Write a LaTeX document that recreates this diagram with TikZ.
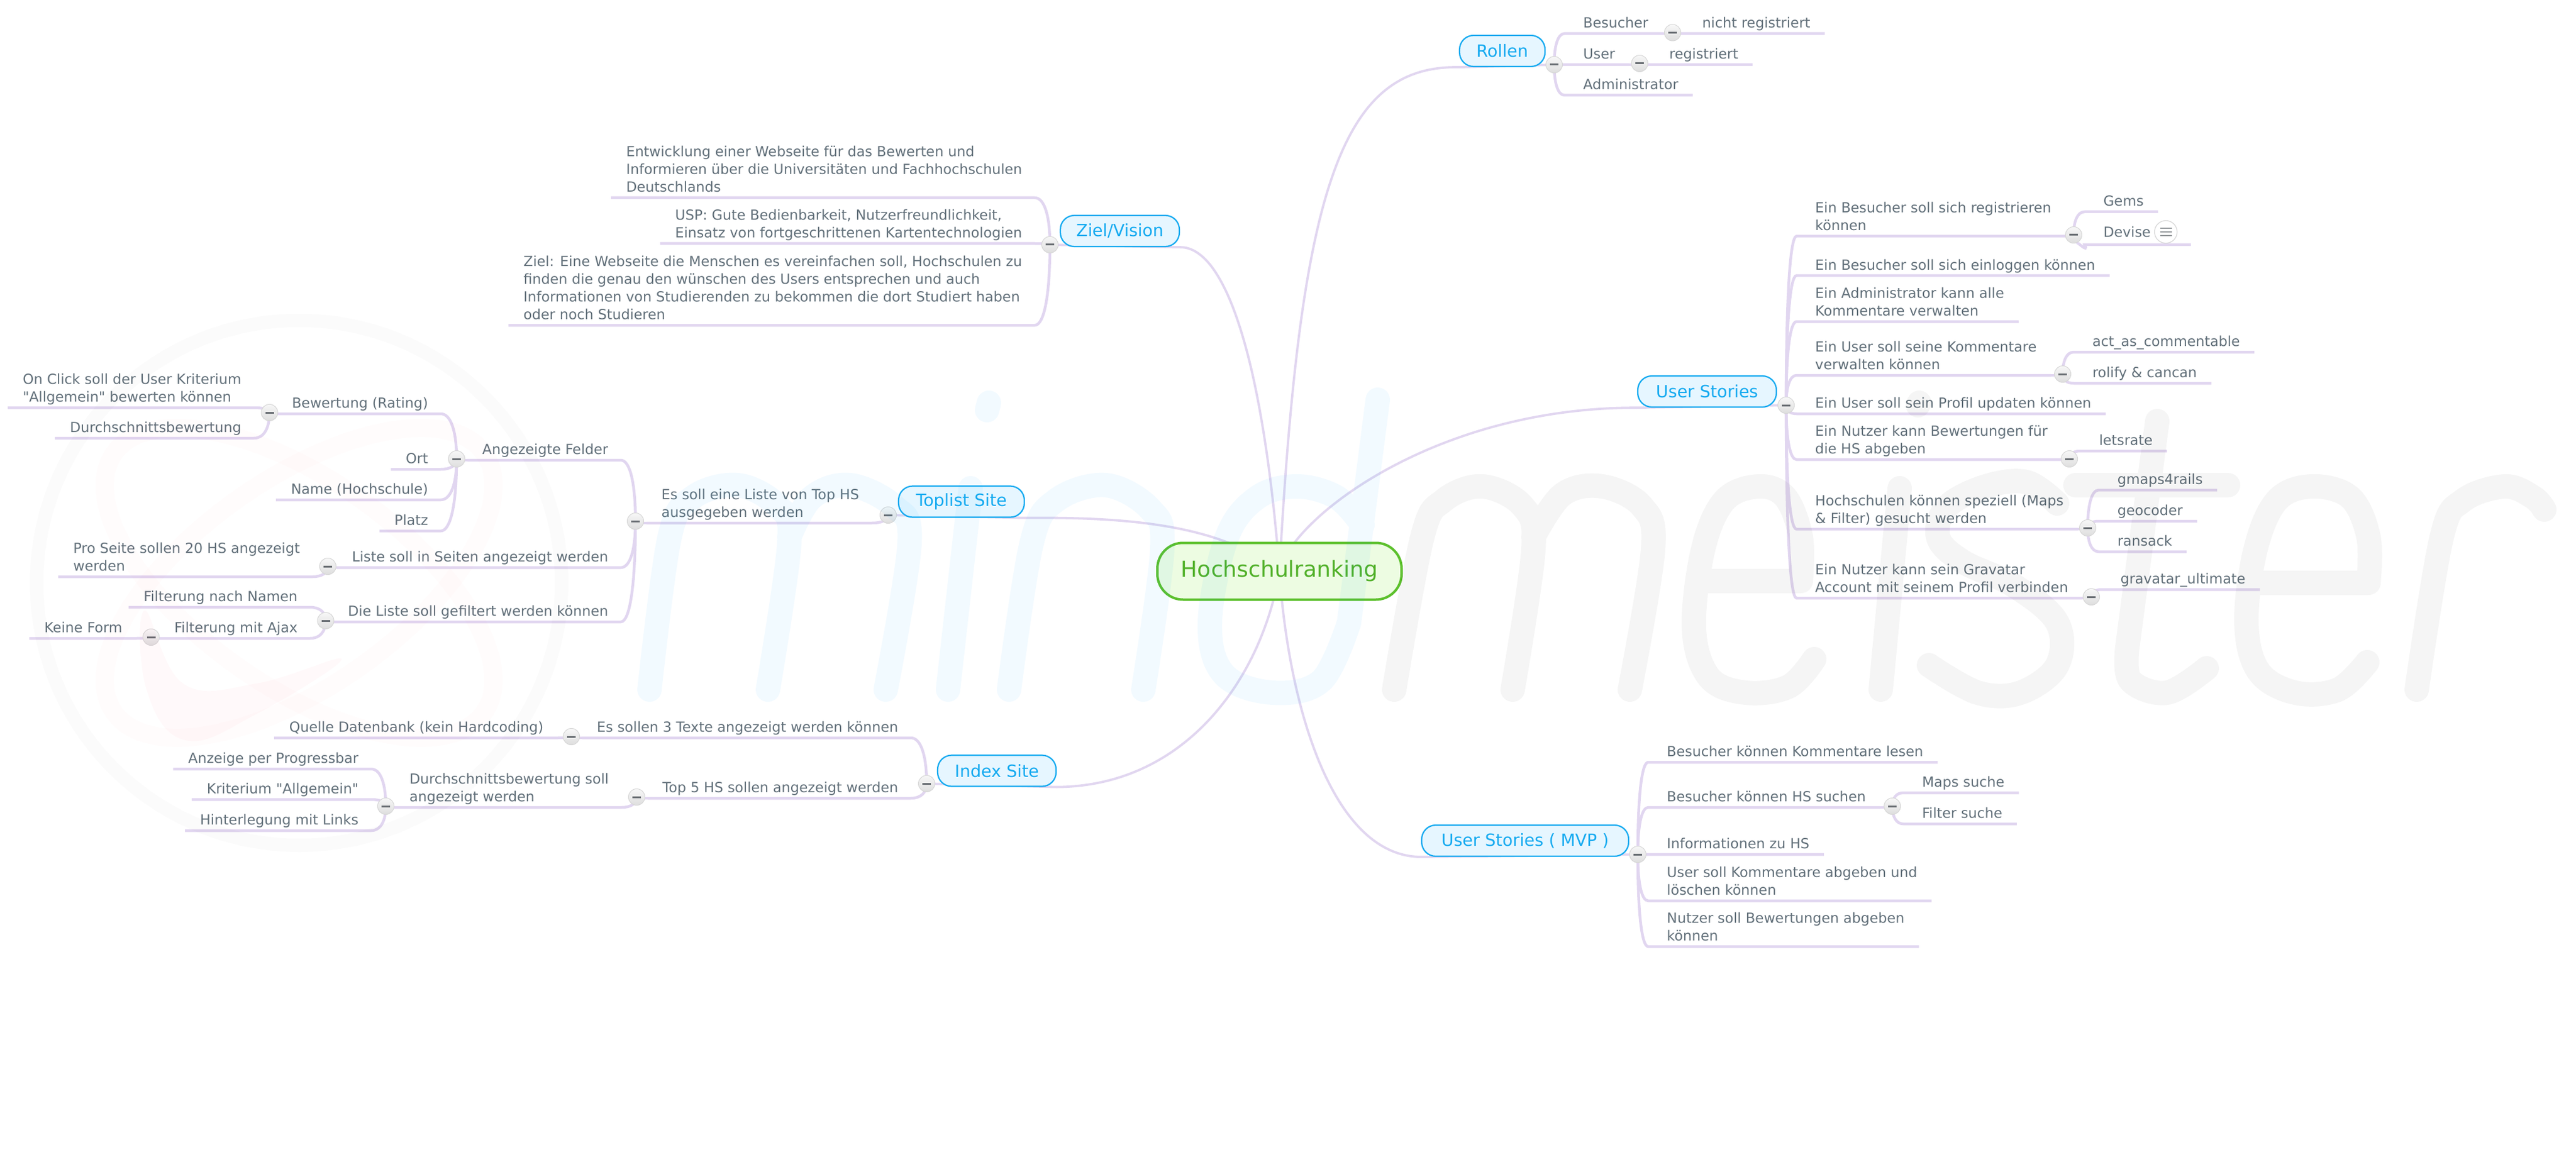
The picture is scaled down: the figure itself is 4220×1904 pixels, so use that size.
\documentclass[tikz,border=0pt]{standalone}
\usepackage{fontspec}
\setmainfont{DejaVu Sans}[Ligatures=TeXOff]
\usetikzlibrary{calc, backgrounds}
\definecolor{linklav}{RGB}{225,214,240}
\definecolor{topictext}{RGB}{98,112,122}
\definecolor{mainblue}{RGB}{20,170,240}
\definecolor{mainfill}{RGB}{230,246,255}
\definecolor{rootgreen}{RGB}{92,192,44}
\definecolor{roottext}{RGB}{80,176,40}
\definecolor{rootfill}{RGB}{237,252,226}
\definecolor{btnedge}{RGB}{214,214,214}
\definecolor{btnminus}{RGB}{105,110,115}
\definecolor{wmblue}{RGB}{0,168,255}
\definecolor{wmpink}{RGB}{255,0,80}

\begin{document}
\begin{tikzpicture}[
    x=0.1mm, y=-0.1mm,
    root/.style={draw=rootgreen, fill=rootfill, line width=0.4mm, rounded corners=4.2mm, minimum width=40cm/10, minimum height=9.3mm, inner sep=0pt, text=roottext, font=\fontsize{10.25}{13}\selectfont},
    mainnode/.style={draw=mainblue, fill=mainfill, line width=0.22mm, rounded corners=2.3mm, minimum height=5.1mm, inner sep=0pt, text=mainblue, font=\fontsize{7.85}{9}\selectfont},
    topic/.style={inner sep=0pt, align=left, text=topictext, font=\fontsize{6.5}{8.25}\selectfont, execute at end node=\strut},
    topicR/.style={topic, anchor=south west},
    topicL/.style={topic, anchor=south east},
    btn/.style={circle, draw=btnedge, line width=0.1mm, top color=white!97!black, bottom color=white!87!black, minimum size=2.7mm, inner sep=0pt,
        path picture={\fill[btnminus] ([shift={(-0.7mm,-0.15mm)}]path picture bounding box.center) rectangle ++(1.4mm,0.3mm);}},
    noteicon/.style={circle, draw=btnedge, fill=white, line width=0.12mm, minimum size=3.7mm, inner sep=0pt,
        path picture={\foreach \dy in {-0.6mm,0mm,0.6mm} \draw[btnminus!70, line width=0.16mm] ([shift={(-0.95mm,\dy)}]path picture bounding box.center) -- ++(1.9mm,0mm);}},
    link/.style={draw=linklav, line width=0.38mm},
    twig/.style={draw=linklav, line width=0.45mm},
    twigR/.style={to path={let \p1=(\tikztostart.center), \p2=([xshift=-3mm]\tikztotarget.south west), \p3=([xshift=2.3mm]\tikztotarget.south east) in
        (\p1) .. controls (\x1,{0.4*\y1+0.6*\y2}) and ({0.65*\x1+0.35*\x2},\y2) .. (\p2) -- (\p3)}},
    twigL/.style={to path={let \p1=(\tikztostart.center), \p2=([xshift=2mm]\tikztotarget.south east), \p3=([xshift=-2.4mm]\tikztotarget.south west) in
        (\p1) .. controls (\x1,{0.4*\y1+0.6*\y2}) and ({0.65*\x1+0.35*\x2},\y2) .. (\p2) -- (\p3)}},
    wmstroke/.style={line width=4mm, line cap=round, line join=round},
    wmb/.style={wmstroke, draw=wmblue, opacity=0.05},
    wmg/.style={wmstroke, draw=black, opacity=0.04}
]
\useasboundingbox (0,0) rectangle (4220,1904);

% Root
\node[root] (root) at (2096,936) {Hochschulranking};

% Main topics
\node[mainnode, minimum width=14mm] (rollen) at (2461,83.5) {Rollen};
\node[mainnode, minimum width=19.5mm] (ziel) at (1834.5,378.5) {Ziel/Vision};
\node[mainnode, minimum width=22.7mm] (stories) at (2796.5,641.5) {User Stories};
\node[mainnode, minimum width=20.6mm] (toplist) at (1575,822) {Toplist Site};
\node[mainnode, minimum width=19.4mm] (indexsite) at (1633,1263) {Index Site};
\node[mainnode, minimum width=33.9mm] (mvp) at (2498.5,1377.5) {User Stories ( MVP )};

% Rollen
\node[btn] (bRollen) at (2546,106) {};
\node[topicR] (besucher) at (2593,55) {Besucher};
\node[btn] (bBesucher) at (2740,53.5) {};
\node[topicR] (nichtreg) at (2788,55) {nicht registriert};
\node[topicR] (user) at (2593,106) {User};
\node[btn] (bUser) at (2686,104) {};
\node[topicR] (registriert) at (2734,106) {registriert};
\node[topicR] (admin) at (2593,156) {Administrator};

% Ziel/Vision
\node[btn] (bZiel) at (1720,401) {};
\node[topicL] (entwicklung) at (1675,324) {Entwicklung einer Webseite für das Bewerten und\\Informieren über die Universitäten und Fachhochschulen\\Deutschlands};
\node[topicL] (usp) at (1675,399) {USP: Gute Bedienbarkeit, Nutzerfreundlichkeit,\\Einsatz von fortgeschrittenen Kartentechnologien};
\node[topicL] (zieltext) at (1675,533) {Ziel: Eine Webseite die Menschen es vereinfachen soll, Hochschulen zu\\finden die genau den wünschen des Users entsprechen und auch\\Informationen von Studierenden zu bekommen die dort Studiert haben\\oder noch Studieren};

% User Stories
\node[btn] (bStories) at (2926,664) {};
\node[topicR] (registrieren) at (2973,387) {Ein Besucher soll sich registrieren\\können};
\node[btn] (bRegistrieren) at (3397,385) {};
\node[topicR] (gems) at (3445,347) {Gems};
\node[topicR] (devise) at (3445,398) {Devise};
\node[noteicon] (deviseNote) at (3548,380) {};
\node[topicR] (einloggen) at (2973,451.5) {Ein Besucher soll sich einloggen können};
\node[topicR] (kommAdmin) at (2973,527) {Ein Administrator kann alle\\Kommentare verwalten};
\node[topicR] (kommUser) at (2973,615) {Ein User soll seine Kommentare\\verwalten können};
\node[btn] (bKommUser) at (3379,613) {};
\node[topicR] (actas) at (3427,577) {act\_as\_commentable};
\node[topicR] (rolify) at (3427,628) {rolify \& cancan};
\node[topicR] (profil) at (2973,678) {Ein User soll sein Profil updaten können};
\node[topicR] (bewAbgeben) at (2973,753) {Ein Nutzer kann Bewertungen für\\die HS abgeben};
\node[btn] (bBewAbgeben) at (3390,752) {};
\node[topicR] (letsrate) at (3438,739) {letsrate};
\node[topicR] (speziell) at (2973,867) {Hochschulen können speziell (Maps\\\& Filter) gesucht werden};
\node[btn] (bSpeziell) at (3420,865) {};
\node[topicR] (gmaps) at (3468,803) {gmaps4rails};
\node[topicR] (geocoder) at (3468,854) {geocoder};
\node[topicR] (ransack) at (3468,904) {ransack};
\node[topicR] (gravatar) at (2973,980) {Ein Nutzer kann sein Gravatar\\Account mit seinem Profil verbinden};
\node[btn] (bGravatar) at (3426,978) {};
\node[topicR] (ultimate) at (3473,966) {gravatar\_ultimate};

% User Stories (MVP)
\node[btn] (bMvp) at (2683,1400) {};
\node[topicR] (lesen) at (2730,1249) {Besucher können Kommentare lesen};
\node[topicR] (suchen) at (2730,1323) {Besucher können HS suchen};
\node[btn] (bSuchen) at (3100,1321) {};
\node[topicR] (maps) at (3148,1299) {Maps suche};
\node[topicR] (filter) at (3148,1350) {Filter suche};
\node[topicR] (infos) at (2730,1400) {Informationen zu HS};
\node[topicR] (abgeben) at (2730,1476) {User soll Kommentare abgeben und\\löschen können};
\node[topicR] (bewerten) at (2730,1551) {Nutzer soll Bewertungen abgeben\\können};

% Toplist Site
\node[btn] (bToplist) at (1455,844) {};
\node[topicL] (liste) at (1408,857) {Es soll eine Liste von Top HS\\ausgegeben werden};
\node[btn] (bListe) at (1041,854) {};
\node[topicL] (felder) at (997,754) {Angezeigte Felder};
\node[btn] (bFelder) at (748,752) {};
\node[topicL] (rating) at (702,678) {Bewertung (Rating)};
\node[btn] (bRating) at (441.5,676) {};
\node[topicL] (onclick) at (396,668) {On Click soll der User Kriterium\\"Allgemein" bewerten können};
\node[topicL] (durchschnitt) at (396,718) {Durchschnittsbewertung};
\node[topicL] (ort) at (702,769) {Ort};
\node[topicL] (name) at (702,819) {Name (Hochschule)};
\node[topicL] (platz) at (702,870) {Platz};
\node[topicL] (seiten) at (997,930) {Liste soll in Seiten angezeigt werden};
\node[btn] (bSeiten) at (537,928) {};
\node[topicL] (proseite) at (492,945) {Pro Seite sollen 20 HS angezeigt\\werden};
\node[topicL] (gefiltert) at (997,1019) {Die Liste soll gefiltert werden können};
\node[btn] (bGefiltert) at (533.5,1017) {};
\node[topicL] (namen) at (488,995) {Filterung nach Namen};
\node[topicL] (ajax) at (488,1046) {Filterung mit Ajax};
\node[btn] (bAjax) at (247.5,1044) {};
\node[topicL] (keineform) at (201,1046) {Keine Form};

% Index Site
\node[btn] (bIndex) at (1518,1284) {};
\node[topicL] (texte) at (1472,1209) {Es sollen 3 Texte angezeigt werden können};
\node[btn] (bTexte) at (936,1207) {};
\node[topicL] (quelle) at (891,1209) {Quelle Datenbank (kein Hardcoding)};
\node[topicL] (topfive) at (1472,1308) {Top 5 HS sollen angezeigt werden};
\node[btn] (bTopfive) at (1043,1306) {};
\node[topicL] (durchsoll) at (998,1323) {Durchschnittsbewertung soll\\angezeigt werden};
\node[btn] (bDurchsoll) at (632,1321) {};
\node[topicL] (progress) at (588,1260) {Anzeige per Progressbar};
\node[topicL] (kriterium) at (588,1310) {Kriterium "Allgemein"};
\node[topicL] (hinterlegung) at (588,1361) {Hinterlegung mit Links};

\begin{pgfonlayer}{background}
\fill[white] (0,0) rectangle (4220,1904);

% Links from the root
\draw[link] (root.center) .. controls (2130,300) and (2200,107) .. (rollen.south west) -- (bRollen);
\draw[link] (root.center) .. controls (2070,600) and (2010,404) .. (ziel.south east) -- (bZiel);
\draw[link] (root.center) .. controls (2115,850) and (2350,667) .. (stories.south west) -- (bStories);
\draw[link] (root.center) .. controls (2000,860) and (1850,847) .. (toplist.south east) -- (bToplist);
\draw[link] (root.center) .. controls (2070,1100) and (1950,1288) .. (indexsite.south east) -- (bIndex);
\draw[link] (root.center) .. controls (2110,1150) and (2180,1403) .. (mvp.south west) -- (bMvp);

% Right branches
\foreach \kid in {besucher,user,admin} \draw[twig] (bRollen) to[twigR] (\kid);
\draw[twig] (bBesucher) to[twigR] (nichtreg);
\draw[twig] (bUser) to[twigR] (registriert);
\draw[twig] (besucher.south east) -- (besucher.south east -| bBesucher.center);
\draw[twig] (user.south east) -- (user.south east -| bUser.center);

\foreach \kid in {registrieren,einloggen,kommAdmin,kommUser,profil,bewAbgeben,speziell,gravatar} \draw[twig] (bStories) to[twigR] (\kid);
\draw[twig] (registrieren.south east) -- (registrieren.south east -| bRegistrieren.center);
\draw[twig] (kommUser.south east) -- (kommUser.south east -| bKommUser.center);
\draw[twig] (bewAbgeben.south east) -- (bewAbgeben.south east -| bBewAbgeben.center);
\draw[twig] (speziell.south east) -- (speziell.south east -| bSpeziell.center);
\draw[twig] (gravatar.south east) -- (gravatar.south east -| bGravatar.center);
\draw[twig] (bRegistrieren) to[twigR] (gems);
\draw[twig] (bRegistrieren) .. controls +(3,8) and +(8,16) .. ([shift={(-3mm,-0.3mm)}]devise.south west) -- ([yshift=-0.3mm]devise.south west -| deviseNote.east) -- ++(22,0);
\foreach \kid in {actas,rolify} \draw[twig] (bKommUser) to[twigR] (\kid);
\draw[twig] (bBewAbgeben) to[twigR] (letsrate);
\foreach \kid in {gmaps,geocoder,ransack} \draw[twig] (bSpeziell) to[twigR] (\kid);
\draw[twig] (bGravatar) to[twigR] (ultimate);

\foreach \kid in {lesen,suchen,infos,abgeben,bewerten} \draw[twig] (bMvp) to[twigR] (\kid);
\draw[twig] (suchen.south east) -- (suchen.south east -| bSuchen.center);
\foreach \kid in {maps,filter} \draw[twig] (bSuchen) to[twigR] (\kid);

% Left branches
\foreach \kid in {entwicklung,usp,zieltext} \draw[twig] (bZiel) to[twigL] (\kid);

\draw[twig] (bToplist) to[twigL] (liste);
\draw[twig] (liste.south west) -- (liste.south west -| bListe.center);
\foreach \kid in {felder,seiten,gefiltert} \draw[twig] (bListe) to[twigL] (\kid);
\draw[twig] (felder.south west) -- (felder.south west -| bFelder.center);
\draw[twig] (seiten.south west) -- (seiten.south west -| bSeiten.center);
\draw[twig] (gefiltert.south west) -- (gefiltert.south west -| bGefiltert.center);
\foreach \kid in {rating,ort,name,platz} \draw[twig] (bFelder) to[twigL] (\kid);
\draw[twig] (rating.south west) -- (rating.south west -| bRating.center);
\foreach \kid in {onclick,durchschnitt} \draw[twig] (bRating) to[twigL] (\kid);
\draw[twig] (bSeiten) to[twigL] (proseite);
\foreach \kid in {namen,ajax} \draw[twig] (bGefiltert) to[twigL] (\kid);
\draw[twig] (ajax.south west) -- (ajax.south west -| bAjax.center);
\draw[twig] (bAjax) to[twigL] (keineform);

\foreach \kid in {texte,topfive} \draw[twig] (bIndex) to[twigL] (\kid);
\draw[twig] (texte.south west) -- (texte.south west -| bTexte.center);
\draw[twig] (bTexte) to[twigL] (quelle);
\draw[twig] (topfive.south west) -- (topfive.south west -| bTopfive.center);
\draw[twig] (bTopfive) to[twigL] (durchsoll);
\draw[twig] (durchsoll.south west) -- (durchsoll.south west -| bDurchsoll.center);
\foreach \kid in {progress,kriterium,hinterlegung} \draw[twig] (bDurchsoll) to[twigL] (\kid);
\end{pgfonlayer}

% Watermark: swirl
\draw[black, opacity=0.016, line width=2.2mm] (490,955) circle (430);
\draw[wmpink, opacity=0.012, line width=3mm, rotate around={35:(490,955)}] (490,955) ellipse (370 and 170);
\draw[wmpink, opacity=0.012, line width=3mm, rotate around={-35:(490,955)}] (490,955) ellipse (370 and 170);
\fill[wmpink, opacity=0.022] plot[smooth cycle, tension=0.7] coordinates {(237,1000) (240,1130) (304,1213) (420,1170) (560,1080) (420,1120) (300,1120)};

% Watermark: mind
\draw[wmb] plot[smooth, tension=0.6] coordinates {(1064,1130) (1097,880) (1135,815) (1209,795) (1275,830) (1293,890) (1258,1130)}
    plot[smooth, tension=0.6] coordinates {(1293,880) (1330,815) (1393,795) (1465,830) (1490,890) (1451,1130)};
\draw[wmb] (1553,1130) -- (1590,800) (1620,660) -- (1617,672);
\draw[wmb] plot[smooth, tension=0.6] coordinates {(1653,1130) (1690,890) (1730,820) (1812,795) (1885,835) (1904,900) (1873,1130)};
\draw[wmb] (2257,655) -- (2210,1020)
    plot[smooth, tension=0.6] coordinates {(2210,1020) (2165,1115) (2085,1135) (2005,1105) (1982,1020) (2010,880) (2060,815) (2125,797) (2190,815) (2232,860)};

% Watermark: meister
\draw[wmg] plot[smooth, tension=0.6] coordinates {(2284,1130) (2330,880) (2365,820) (2429,797) (2495,830) (2512,900) (2478,1130)}
    plot[smooth, tension=0.6] coordinates {(2512,880) (2560,810) (2625,797) (2690,830) (2708,900) (2670,1130)};
\draw[wmg] (2790,952) -- (2950,952)
    plot[smooth, tension=0.6] coordinates {(2950,952) (2950,880) (2925,815) (2881,797) (2825,820) (2790,900) (2775,1030) (2800,1110) (2860,1135) (2930,1125) (2972,1080)};
\draw[wmg] (3081,1130) -- (3112,800) (3144,660) -- (3142,664);
\draw[wmg] plot[smooth, tension=0.6] coordinates {(3370,825) (3320,790) (3253,797) (3190,830) (3175,880) (3215,920) (3300,960) (3370,1020) (3370,1090) (3310,1135) (3240,1135) (3160,1090)};
\draw[wmg] (3400,795) -- (3650,795) (3534,690) -- (3485,1060)
    plot[smooth, tension=0.6] coordinates {(3485,1060) (3490,1115) (3550,1135) (3615,1095)};
\draw[wmg] (3690,955) -- (3880,955)
    plot[smooth, tension=0.6] coordinates {(3880,955) (3880,880) (3850,815) (3787,797) (3730,820) (3695,900) (3680,1020) (3700,1100) (3760,1135) (3830,1130) (3878,1085)};
\draw[wmg] plot[smooth, tension=0.6] coordinates {(3959,1130) (4000,880) (4035,820) (4104,797) (4150,815) (4168,835)};

\end{tikzpicture}
\end{document}
